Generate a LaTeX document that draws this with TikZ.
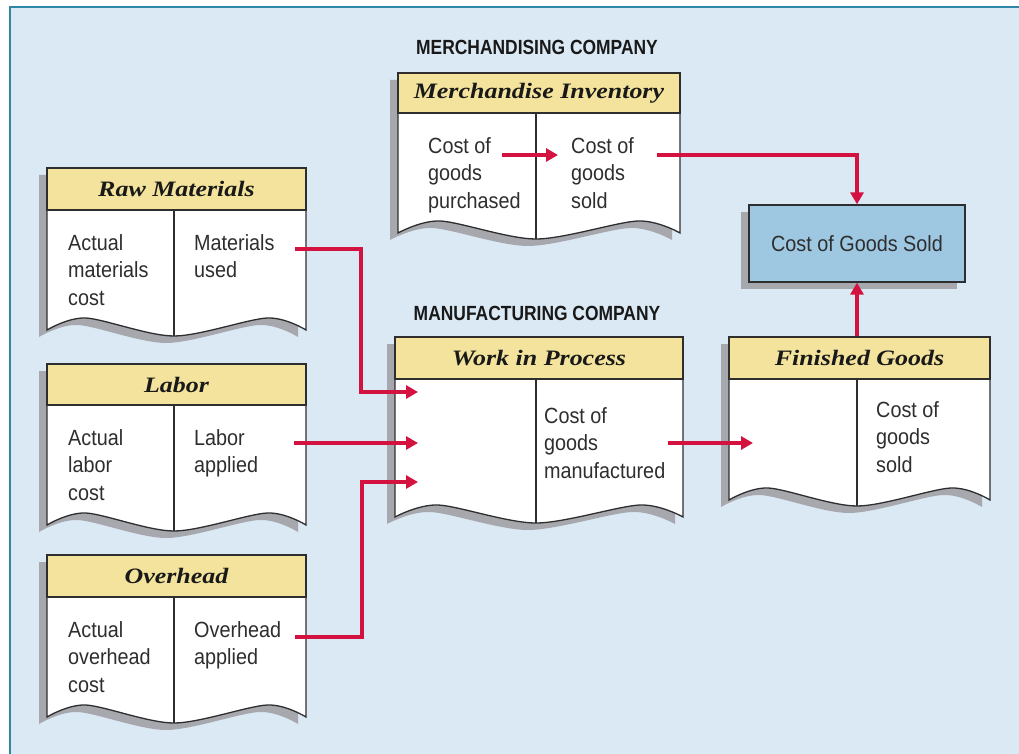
\documentclass[tikz,border=0pt]{standalone}
\usepackage{fontspec}
\usepackage{tikz}
\usetikzlibrary{arrows.meta}

\newfontfamily\bodyfont[FakeStretch=0.9]{Liberation Sans}
\newfontfamily\capsfont[FakeStretch=0.85]{Liberation Sans}
\newfontfamily\headfont[FakeStretch=1.18]{Liberation Serif}

\definecolor{bgblue}{HTML}{DAE9F4}
\definecolor{frameblue}{HTML}{2F86A6}
\definecolor{headyellow}{HTML}{F4E39C}
\definecolor{cogsblue}{HTML}{9EC8E2}
\definecolor{shadowgray}{HTML}{A7A8AE}
\definecolor{flowred}{HTML}{D4123F}
\definecolor{inkgray}{HTML}{2E2E2E}

% #1 name, #2 left, #3 right, #4 divider, #5 top, #6 header bottom, #7 bottom, #8 title
\newcommand{\taccount}[8]{%
  \fill[shadowgray, shift={(-8,7)}] (#2,#5) -- (#3,#5) -- plot[smooth] coordinates {(#3,#7) ({#3-0.15*(#3-#2)},{#7-12}) (#4,{#7+6}) ({#2+0.15*(#3-#2)},{#7-12}) (#2,#7)} -- cycle;
  \filldraw[acctline, fill=white] (#2,#5) -- (#3,#5) -- plot[smooth] coordinates {(#3,#7) ({#3-0.15*(#3-#2)},{#7-12}) (#4,{#7+6}) ({#2+0.15*(#3-#2)},{#7-12}) (#2,#7)} -- cycle;
  \draw[acctline] (#4,#6) -- (#4,{#7+6});
  \node[headbox, minimum width={#3-#2}, minimum height={#6-#5}] (#1head) at ({(#2+#3)/2},{(#5+#6)/2}) {#8};
}

\begin{document}
\begin{tikzpicture}[x=1pt, y=-1pt,
    acctline/.style={draw=inkgray, line width=1.3pt},
    headbox/.style={acctline, fill=headyellow, inner sep=0pt, text=black!90,
      font=\headfont\fontsize{22}{24}\selectfont\bfseries\itshape},
    accttext/.style={anchor=base west, align=left, inner sep=0pt, text=inkgray,
      font=\bodyfont\fontsize{22}{27.5}\selectfont},
    titletext/.style={inner sep=0pt, text=black!90,
      font=\capsfont\fontsize{20.5}{24}\selectfont\bfseries},
    flow/.style={draw=flowred, line width=4pt, -{Triangle[length=12pt,width=13pt]}}]
    \useasboundingbox (0,0) rectangle (1019,754);
    \fill[bgblue] (10,7) rectangle (1019,754);
    \draw[frameblue, line width=2pt] (10,754) -- (10,7) -- (1019,7);

    % titles
    \node[titletext] (merchtitle) at (537,47) {MERCHANDISING COMPANY};
    \node[titletext] (manutitle) at (537,313) {MANUFACTURING COMPANY};

    % accounts
    \taccount{raw}{47}{306}{174}{168}{210}{330}{Raw Materials}
    \taccount{labor}{47}{306}{174}{364}{405}{525}{Labor}
    \taccount{oh}{47}{306}{174}{555}{597}{717}{Overhead}
    \taccount{mi}{398}{680}{536}{73}{113}{233}{Merchandise Inventory}
    \taccount{wip}{395}{683}{536}{337}{379}{517}{Work in Process}
    \taccount{fg}{729}{990}{857}{337}{379}{500}{Finished Goods}

    % texts sit on the baseline of their last line
    \node[accttext] (rawleft) at (68,305) {Actual\\materials\\cost};
    \node[accttext] (rawright) at (194,277.5) {Materials\\used};
    \node[accttext] (laborleft) at (68,500) {Actual\\labor\\cost};
    \node[accttext] (laborright) at (194,472.5) {Labor\\applied};
    \node[accttext] (ohleft) at (68,692) {Actual\\overhead\\cost};
    \node[accttext] (ohright) at (194,664.5) {Overhead\\applied};
    \node[accttext] (mileft) at (428,208) {Cost of\\goods\\purchased};
    \node[accttext] (miright) at (571,208) {Cost of\\goods\\sold};
    \node[accttext] (wipright) at (544,478) {Cost of\\goods\\manufactured};
    \node[accttext] (fgright) at (876,472) {Cost of\\goods\\sold};

    % cost of goods sold
    \fill[shadowgray] (741,212) rectangle (957,289);
    \node[acctline, fill=cogsblue, minimum width=216, minimum height=77, inner sep=0pt,
      text=inkgray, font=\bodyfont\fontsize{22}{27.5}\selectfont] (cogs) at (857,243.5) {Cost of Goods Sold};

    % flows
    \coordinate (matout) at (295,249);
    \coordinate (wipin1) at (418,392);
    \coordinate (laborout) at (294,443);
    \coordinate (wipin2) at (418,443);
    \coordinate (ohout) at (295,637);
    \coordinate (wipin3) at (418,482);
    \coordinate (purchout) at (502,155);
    \coordinate (soldin) at (558,155);
    \coordinate (soldout) at (657,155);
    \coordinate (wipout) at (668,443);
    \coordinate (fgin) at (753,443);

    \draw[flow] (matout) -- ++(66,0) |- (wipin1);
    \draw[flow] (laborout) -- (wipin2);
    \draw[flow] (ohout) -- ++(67,0) |- (wipin3);
    \draw[flow] (purchout) -- (soldin);
    \draw[flow] (soldout) -| (cogs.north);
    \draw[flow] (wipout) -- (fgin);
    \draw[flow] (fghead.north -| cogs.south) -- (cogs.south);
\end{tikzpicture}
\end{document}
